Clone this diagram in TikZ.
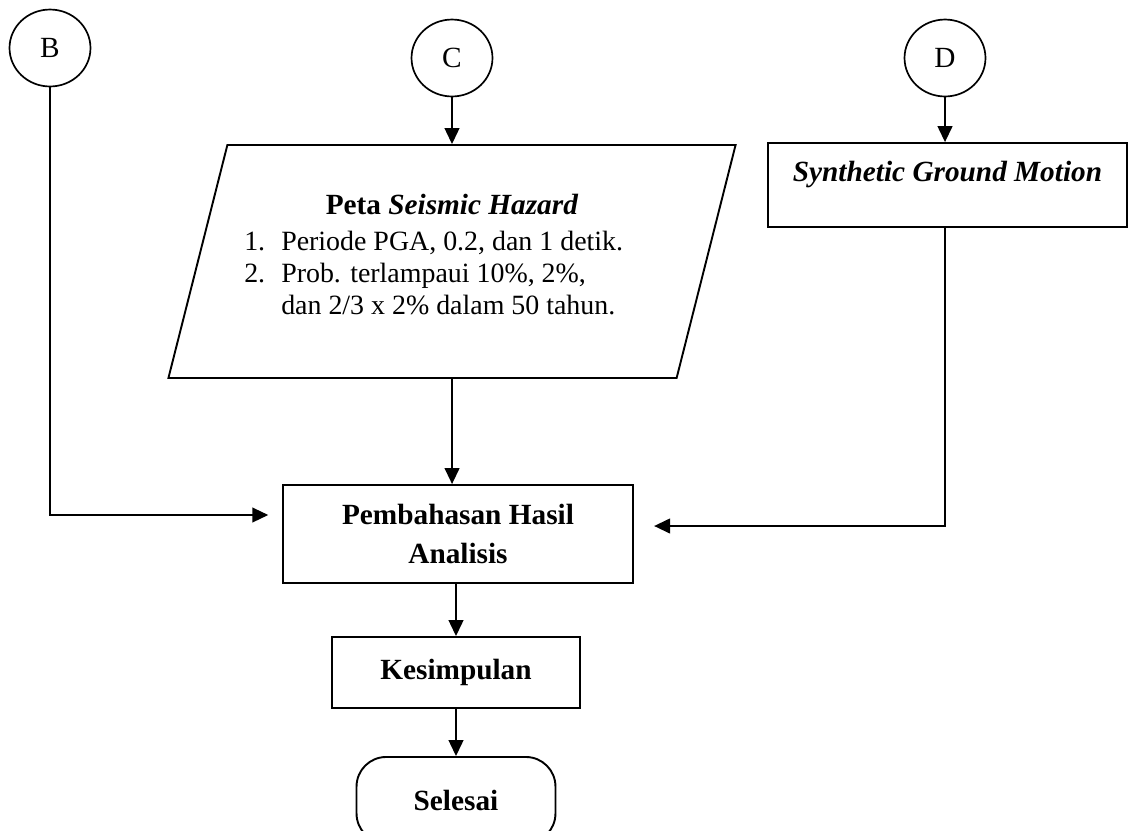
\documentclass[tikz,border=0pt]{standalone}
\usepackage{fontspec}
\setmainfont{Liberation Serif}
\usepackage{tikz}
\usetikzlibrary{arrows.meta, positioning, shapes.geometric}

\begin{document}
\begin{tikzpicture}[
x=0.473pt, y=-0.473pt,
every node/.style={font=\fontsize{13.85}{15.5}\selectfont},
conn/.style={draw, line width=0.8pt, ellipse, minimum width=38.3pt, minimum height=36.4pt, inner sep=0pt},
procbox/.style={draw, line width=0.9pt, align=center, inner sep=0pt},
arr/.style={line width=0.7pt, -{Triangle[length=7.5pt, width=7pt]}}
]

\useasboundingbox (0,0) rectangle (1130,830);

% connectors
\node[conn] (B) at (50,48) {B};
\node[conn] (C) at (452,58) {C};
\node[conn] (D) at (945,58) {D};

% input map
\node[trapezium, draw, line width=0.9pt, trapezium left angle=75.8, trapezium right angle=104.2,
inner sep=0pt] (peta) at (452,261.5) {\parbox[c][110.2pt][c]{212.5pt}{\centering
\fontsize{13.2}{15.2}\selectfont
\begin{tabular}{@{}p{8pt}@{\hspace{9.5pt}}p{179pt}@{}}
\multicolumn{2}{c}{\fontsize{13.85}{15.5}\selectfont\textbf{Peta \textit{Seismic Hazard}}}\\[1.5pt]
1. & Periode PGA, 0.2, dan 1 detik.\\
2. & Prob. terlampaui 10\%, 2\%,\\
 & dan 2/3 x 2\% dalam 50 tahun.
\end{tabular}\par\vspace{3.2pt}}};

\node[procbox, minimum width=169.8pt, minimum height=39.7pt, text depth=13pt] (sgm) at (947.5,185) {\textbf{\textit{Synthetic Ground Motion}}};

\node[procbox, minimum width=165.6pt, minimum height=46.4pt] (pem) at (458,534) {\textbf{Pembahasan Hasil}\\[2.5pt] \textbf{Analisis}};

\node[procbox, minimum width=117.3pt, minimum height=33.6pt] (kes) at (456,672.5) {\textbf{Kesimpulan}};

\node[procbox, rounded corners=14pt, minimum width=94.1pt, minimum height=40.7pt] (sel) at (456,800) {\textbf{Selesai}};

\coordinate (bin) at (283,515);
\coordinate (din) at (633,526);

\draw[arr] (C.south) -- (C.south |- peta.north);
\draw[arr] (D.south) -- (D.south |- sgm.north);
\draw[arr] (peta.south) -- (peta.south |- pem.north);
\draw[arr] (kes |- pem.south) -- (kes);
\draw[arr] (kes) -- (sel);

\draw[arr, shorten >=7pt] (B) |- (bin);
\draw[arr, shorten >=10pt] (D |- sgm.south) |- (din);

\end{tikzpicture}
\end{document}
